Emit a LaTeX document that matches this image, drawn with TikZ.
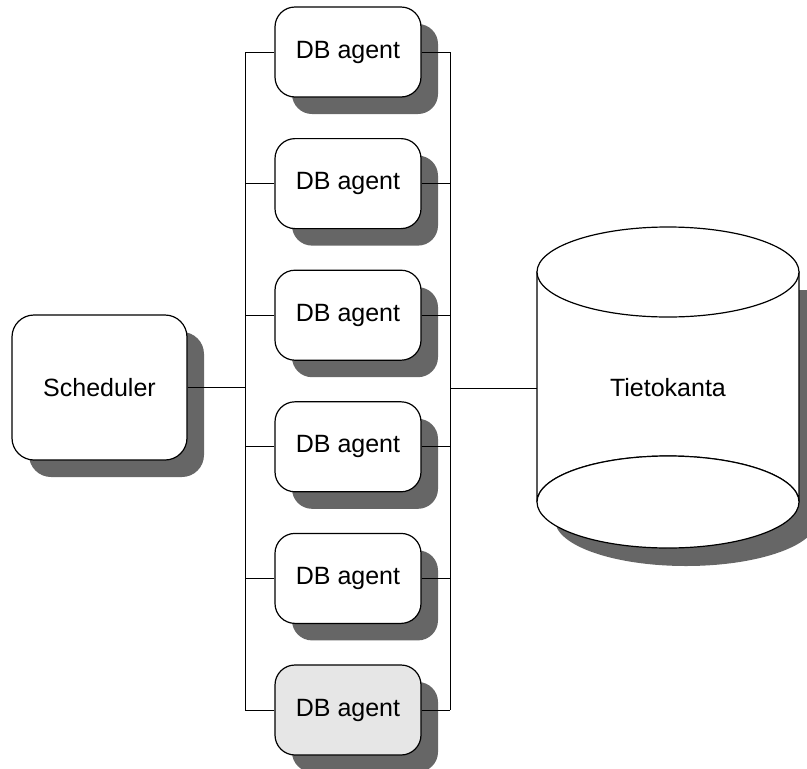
\documentclass[tikz,border=0pt]{standalone}
\usepackage{fontspec}
\setmainfont{Liberation Sans}
\usetikzlibrary{shadows}
\definecolor{shadowgray}{HTML}{666666}
\definecolor{lightfill}{HTML}{E6E6E6}
\tikzset{
  boxshadow/.style={drop shadow={shadow xshift=17pt,shadow yshift=-17pt,fill=shadowgray,opacity=1}},
  agentbox/.style={draw=black,line width=1.2pt,fill=white,rounded corners=20pt,
    minimum width=146pt,minimum height=90pt,inner sep=0pt,boxshadow,
    font=\fontsize{25}{30}\selectfont},
  schedbox/.style={draw=black,line width=1.2pt,fill=white,rounded corners=22pt,
    minimum width=175pt,minimum height=145pt,inner sep=0pt,boxshadow,
    font=\fontsize{25}{30}\selectfont},
  wire/.style={draw=black,line width=0.9pt},
  outline/.style={draw=black,line width=1.2pt}
}
\begin{document}
\begin{tikzpicture}[x=1pt,y=-1pt]
\useasboundingbox (0,0) rectangle (807,769);

% bus coordinates
\coordinate (lt) at (245,52);
\coordinate (lb) at (245,710);
\coordinate (rt) at (450,52);
\coordinate (rb) at (450,710);
\coordinate (dbw) at (537,388);

% database cylinder: shadow, body, top and bottom ellipses
\fill[shadowgray] (555,290) rectangle (830,520);
\fill[shadowgray] (686,520) ellipse [x radius=131, y radius=46];
\path[outline,fill=white] (537,272) -- (537,502) arc [start angle=180,end angle=360,x radius=131,y radius=46]
  -- (799,272) -- cycle;
\path[outline,fill=white] (668,272) ellipse [x radius=131, y radius=45];
\path[outline,fill=white] (668,502) ellipse [x radius=131, y radius=46];
\node[font=\fontsize{25}{30}\selectfont] (db) at (668,388) {Tietokanta};

% wires
\draw[wire] (lt) -- (lb);
\draw[wire] (rt) -- (rb);
\draw[wire] (dbw) -- (dbw -| rt);

% scheduler
\node[schedbox] (sched) at (99.5,387.5) {Scheduler};
\draw[wire] (sched.east) -- (sched.east -| lt);

% database agents
\foreach \i/\y in {1/52,2/183.6,3/315.2,4/446.8,5/578.4}{
  \node[agentbox] (a\i) at (348,\y) {DB agent};
}
\node[agentbox,fill=lightfill] (a6) at (348,710) {DB agent};
\foreach \i in {1,...,6}{
  \draw[wire] (a\i.west) -- (a\i.west -| lt);
  \draw[wire] (a\i.east) -- (a\i.east -| rt);
}
\end{tikzpicture}
\end{document}
